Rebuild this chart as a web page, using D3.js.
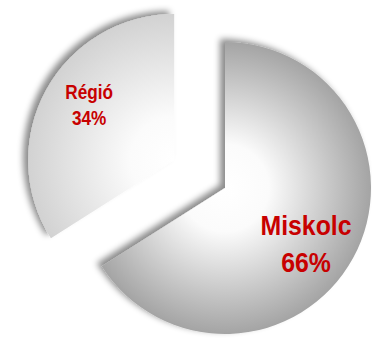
<!DOCTYPE html>
<html>
<head>
<meta charset="utf-8">
<script src="https://cdn.jsdelivr.net/npm/d3@7"></script>
<style>
  html, body { margin: 0; padding: 0; background: #fff; }
  svg { display: block; }
</style>
</head>
<body>
<script>
// data
var categories = ["Miskolc", "Régió"];
var values = [66, 34];
var labels = ["66%", "34%"];

var width = 372;
var height = 341;
var radius = 146;
var cx = 225, cy = 188;
var explode = [0, 58];

// per-slice look
var edgeColors = ["#a4a4a4", "#d2d2d2"];
var fontSizes = [27, 20];
var squeeze = [0.92, 0.86];
var lineHeights = [37, 26];
var nudge = [[-6, 8], [2, -7]];

var svg = d3.select("body").append("svg")
  .attr("width", width)
  .attr("height", height);

var defs = svg.append("defs");

var shadow = defs.append("filter")
  .attr("id", "shadow")
  .attr("x", "-20%").attr("y", "-20%")
  .attr("width", "140%").attr("height", "140%");
shadow.append("feOffset").attr("in", "SourceAlpha").attr("dx", -5).attr("dy", -3).attr("result", "off");
shadow.append("feGaussianBlur").attr("in", "off").attr("stdDeviation", 3).attr("result", "blur");
shadow.append("feFlood").attr("flood-color", "#000").attr("flood-opacity", 0.45).attr("result", "col");
shadow.append("feComposite").attr("in", "col").attr("in2", "blur").attr("operator", "in").attr("result", "sh");
var merge = shadow.append("feMerge");
merge.append("feMergeNode").attr("in", "sh");
merge.append("feMergeNode").attr("in", "SourceGraphic");

var pie = d3.pie().sort(null).value(function(d) { return d; });
var arcs = pie(values);

var arc = d3.arc().innerRadius(0).outerRadius(radius);
var labelArc = d3.arc().innerRadius(radius * 0.68).outerRadius(radius * 0.68);

arcs.forEach(function(d, i) {
  var g = defs.append("radialGradient")
    .attr("id", "grad" + i)
    .attr("gradientUnits", "userSpaceOnUse")
    .attr("cx", 0).attr("cy", 0).attr("r", radius);
  g.append("stop").attr("offset", 0).attr("stop-color", "#ffffff");
  g.append("stop").attr("offset", 0.3).attr("stop-color", "#fbfbfb");
  g.append("stop").attr("offset", 1).attr("stop-color", edgeColors[i]);
});

function offsetOf(d, i) {
  var a = (d.startAngle + d.endAngle) / 2;
  return [Math.sin(a) * explode[i], -Math.cos(a) * explode[i]];
}

var slices = svg.append("g")
  .attr("transform", "translate(" + cx + "," + cy + ")")
  .selectAll("g.slice")
  .data(arcs)
  .enter().append("g")
    .attr("class", "slice")
    .attr("transform", function(d, i) {
      var o = offsetOf(d, i);
      return "translate(" + o[0] + "," + o[1] + ")";
    });

slices.append("path")
  .attr("d", arc)
  .attr("fill", function(d, i) { return "url(#grad" + i + ")"; })
  .attr("filter", "url(#shadow)");

var text = slices.append("text")
  .attr("text-anchor", "middle")
  .attr("font-family", "'Liberation Sans', Arial, sans-serif")
  .attr("font-weight", "bold")
  .attr("fill", "#c80000")
  .attr("font-size", function(d, i) { return fontSizes[i]; })
  .attr("transform", function(d, i) {
    var c = labelArc.centroid(d);
    return "translate(" + (c[0] + nudge[i][0]) + "," + (c[1] + nudge[i][1]) + ") scale(" + squeeze[i] + ",1)";
  });

text.append("tspan")
  .attr("x", 0)
  .attr("y", function(d, i) { return -lineHeights[i] / 2 + fontSizes[i] * 0.36; })
  .text(function(d, i) { return categories[i]; });

text.append("tspan")
  .attr("x", 0)
  .attr("y", function(d, i) { return lineHeights[i] / 2 + fontSizes[i] * 0.36; })
  .text(function(d, i) { return labels[i]; });
</script>
</body>
</html>
